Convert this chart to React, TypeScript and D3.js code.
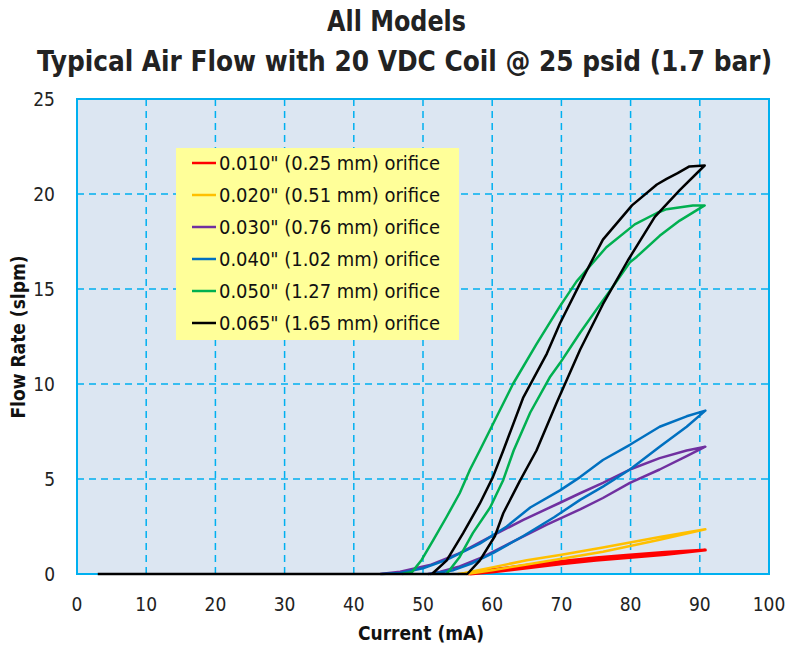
import * as d3 from "d3";
import React, { useEffect, useRef } from "react";

// [current mA, flow slpm] - rising branch first, then the falling branch back
const orifice010: [number, number][] = [
    [56.8, 0], [60, 0.1], [65, 0.32], [69.8, 0.53], [75, 0.72], [79.4, 0.86], [85, 1.03], [90.8, 1.26],
    [85, 1.14], [79.4, 0.99], [75, 0.86], [69.8, 0.66], [65, 0.46], [60, 0.22], [57, 0.03], [56.5, 0],
];
const orifice020: [number, number][] = [
    [56.3, 0], [60, 0.2], [65, 0.5], [69.8, 0.79], [76, 1.17], [84.2, 1.8], [90.8, 2.35],
    [84.2, 1.95], [76, 1.4], [69.8, 1.0], [65, 0.72], [60, 0.35], [56, 0.05], [55, 0],
];
const orifice030: [number, number][] = [
    [50.7, 0], [52.5, 0.12], [55.3, 0.4], [58.7, 0.9], [63, 1.7], [67.9, 2.6], [72.7, 3.4], [76, 4.0],
    [79.9, 4.8], [84.2, 5.5], [88.1, 6.2], [90.8, 6.7],
    [88.1, 6.5], [84.2, 6.1], [79.9, 5.5], [76, 4.8], [72.7, 4.25], [69.8, 3.75], [64.5, 2.85], [59.7, 1.95],
    [55.3, 1.1], [51, 0.47], [46.7, 0.12], [43.8, 0],
];
const orifice040: [number, number][] = [
    [51, 0], [54.4, 0.2], [57.2, 0.58], [60.1, 1.1], [64.5, 2.0], [69, 3.0], [72.7, 3.9], [76, 4.6],
    [79.9, 5.5], [84.2, 6.7], [88.1, 7.75], [90.8, 8.6],
    [88.1, 8.3], [84.2, 7.75], [79.9, 6.8], [76, 6.0], [72.7, 5.1], [69.8, 4.4], [65.5, 3.5], [62.1, 2.5],
    [58.2, 1.6], [53.4, 0.74], [50, 0.3], [46.7, 0.05], [44, 0],
];
const orifice050: [number, number][] = [
    [53.4, 0], [55.3, 0.9], [57.2, 2.15], [59.7, 3.5], [61.6, 4.95], [63.1, 6.5], [65.5, 8.5], [68.4, 10.4],
    [69.8, 11.1], [72.7, 12.7], [76, 14.4], [77, 14.9], [79.9, 16.4], [80.9, 16.7], [84.2, 17.8], [87.1, 18.6],
    [90.7, 19.4],
    [89, 19.4], [85.2, 19.2], [83.8, 19.0], [80.6, 18.4], [76.5, 17.2], [72.2, 15.4], [69.8, 14.1], [66.4, 12.1],
    [63, 10.0], [58.2, 6.5], [56.8, 5.5], [55.3, 4.25], [53.4, 3.0], [51.5, 1.8], [49.8, 0.74], [48.4, 0.1], [47, 0],
];
const orifice065: [number, number][] = [
    [3, 0], [56.4, 0], [58.2, 0.7], [60.4, 2.0], [61.6, 3.2], [64, 4.9], [66.4, 6.5], [69.3, 9.0], [72.7, 11.8],
    [76, 14.2], [79.6, 16.5], [83.5, 18.8], [87.1, 20.2], [90.7, 21.5],
    [88.5, 21.45], [86.8, 21.1], [85.2, 20.8], [83.8, 20.5], [80.2, 19.4], [76, 17.6], [72.7, 15.3], [69.8, 13.2],
    [67.9, 11.6], [64.5, 9.3], [61.6, 6.5], [60.1, 5.1], [58.2, 3.7], [55.8, 2.15], [53.4, 0.7], [51.3, 0], [3, 0],
];

const seriesNames = [
    '0.010" (0.25 mm) orifice',
    '0.020" (0.51 mm) orifice',
    '0.030" (0.76 mm) orifice',
    '0.040" (1.02 mm) orifice',
    '0.050" (1.27 mm) orifice',
    '0.065" (1.65 mm) orifice',
];
const seriesColors = ["#ff0000", "#ffc000", "#7030a0", "#0070c0", "#00b050", "#000000"];
const seriesWidths = [3, 2.5, 2.5, 2.5, 2.5, 2.5];
const seriesData = [orifice010, orifice020, orifice030, orifice040, orifice050, orifice065];

const xTicks = [0, 10, 20, 30, 40, 50, 60, 70, 80, 90, 100];
const yTicks = [0, 5, 10, 15, 20, 25];

const FONT = "'DejaVu Sans Condensed', 'Liberation Sans Narrow', sans-serif";

function Chart() {
    const ref = useRef<SVGSVGElement>(null);

    function drawChart() {
        const svg = d3.select(ref.current);
        svg.selectAll("*").remove();

        const left = 77, right = 769, top = 99, bottom = 574;
        const gridColor = "#00b0f0";

        const x = d3.scaleLinear().domain([0, 100]).range([left, right]);
        const y = d3.scaleLinear().domain([0, 25]).range([bottom, top]);

        // plot background
        svg.append("rect")
            .attr("x", left).attr("y", top)
            .attr("width", right - left).attr("height", bottom - top)
            .attr("fill", "#dce6f2");

        // dashed grid
        svg.append("g")
            .selectAll("line")
            .data(xTicks.slice(1, -1))
            .enter()
            .append("line")
            .attr("x1", (d) => x(d)).attr("x2", (d) => x(d))
            .attr("y1", top).attr("y2", bottom)
            .attr("stroke", gridColor).attr("stroke-width", 1.5)
            .attr("stroke-dasharray", "7,5");
        svg.append("g")
            .selectAll("line")
            .data(yTicks.slice(1, -1))
            .enter()
            .append("line")
            .attr("x1", left).attr("x2", right)
            .attr("y1", (d) => y(d)).attr("y2", (d) => y(d))
            .attr("stroke", gridColor).attr("stroke-width", 1.5)
            .attr("stroke-dasharray", "7,5");

        svg.append("rect")
            .attr("x", left).attr("y", top)
            .attr("width", right - left).attr("height", bottom - top)
            .attr("fill", "none")
            .attr("stroke", gridColor).attr("stroke-width", 2);

        // tick labels
        svg.append("g")
            .selectAll("text")
            .data(xTicks)
            .enter()
            .append("text")
            .attr("x", (d) => x(d))
            .attr("y", 611)
            .attr("text-anchor", "middle")
            .style("font-family", FONT).style("font-size", "19px")
            .attr("fill", "#222")
            .text((d) => d);
        svg.append("g")
            .selectAll("text")
            .data(yTicks)
            .enter()
            .append("text")
            .attr("x", 55)
            .attr("y", (d) => y(d) + 7)
            .attr("text-anchor", "end")
            .style("font-family", FONT).style("font-size", "19px")
            .attr("fill", "#222")
            .text((d) => d);

        // legend
        const lg = svg.append("g");
        lg.append("rect")
            .attr("x", 176).attr("y", 148)
            .attr("width", 283).attr("height", 192)
            .attr("fill", "#ffff99");
        seriesNames.forEach((name, i) => {
            const cy = 163 + i * 32;
            lg.append("line")
                .attr("x1", 192).attr("x2", 216)
                .attr("y1", cy).attr("y2", cy)
                .attr("stroke", seriesColors[i]).attr("stroke-width", 2.5);
            lg.append("text")
                .attr("x", 219).attr("y", cy + 7)
                .attr("textLength", 221)
                .attr("lengthAdjust", "spacingAndGlyphs")
                .style("font-family", FONT).style("font-size", "19px")
                .attr("fill", "#111")
                .text(name);
        });

        // curves
        const line = d3
            .line<[number, number]>()
            .x((d) => x(d[0]))
            .y((d) => y(d[1]));
        svg.append("g")
            .selectAll("path")
            .data(seriesData)
            .enter()
            .append("path")
            .attr("d", (d) => line(d))
            .attr("fill", "none")
            .attr("stroke", (d, i) => seriesColors[i])
            .attr("stroke-width", (d, i) => seriesWidths[i])
            .attr("stroke-linejoin", "round");

        // titles
        svg.append("text")
            .attr("x", 396.5).attr("y", 31)
            .attr("text-anchor", "middle")
            .attr("textLength", 139)
            .attr("lengthAdjust", "spacingAndGlyphs")
            .style("font-family", FONT).style("font-size", "29px").style("font-weight", "bold")
            .attr("fill", "#222")
            .text("All Models");
        svg.append("text")
            .attr("x", 404.5).attr("y", 71)
            .attr("text-anchor", "middle")
            .attr("textLength", 735)
            .attr("lengthAdjust", "spacingAndGlyphs")
            .style("font-family", FONT).style("font-size", "28px").style("font-weight", "bold")
            .attr("fill", "#222")
            .text("Typical Air Flow with 20 VDC Coil @ 25 psid (1.7 bar)");

        svg.append("text")
            .attr("x", 421).attr("y", 640)
            .attr("text-anchor", "middle")
            .style("font-family", FONT).style("font-size", "19px").style("font-weight", "bold")
            .attr("fill", "#111")
            .text("Current (mA)");
        svg.append("text")
            .attr("transform", "translate(25,337) rotate(-90)")
            .attr("text-anchor", "middle")
            .style("font-family", FONT).style("font-size", "19px").style("font-weight", "bold")
            .attr("fill", "#111")
            .text("Flow Rate (slpm)");
    }

    useEffect(() => {
        drawChart();
    }, []);

    return (
        <svg
            ref={ref}
            width={788}
            height={645}
            style={{ position: "absolute", left: 0, top: 0, background: "#fff" }}
        ></svg>
    );
}

export default function App() {
    return <Chart />;
}
